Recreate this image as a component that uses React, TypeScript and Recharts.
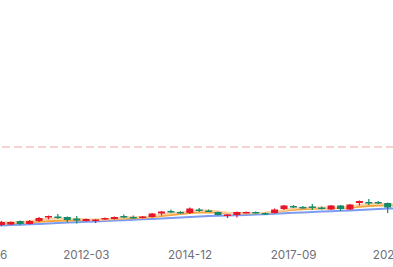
import { ComposedChart, Bar, Line, XAxis, YAxis, ReferenceLine } from 'recharts'

// quarterly candles, Chinese colouring: red = up, green = down
const quarters = [
  '2009-06', '2009-09', '2009-12', '2010-03', '2010-06', '2010-09', '2010-12', '2011-03', '2011-06',
  '2011-09', '2011-12', '2012-03', '2012-06', '2012-09', '2012-12', '2013-03', '2013-06', '2013-09',
  '2013-12', '2014-03', '2014-06', '2014-09', '2014-12', '2015-03', '2015-06', '2015-09', '2015-12',
  '2016-03', '2016-06', '2016-09', '2016-12', '2017-03', '2017-06', '2017-09', '2017-12', '2018-03',
  '2018-06', '2018-09', '2018-12', '2019-03', '2019-06', '2019-09', '2019-12', '2020-03', '2020-06',
]
const opens = [
  14, 17.5, 15, 15.5, 19, 16, 19, 22.5, 23.5, 23, 21.5, 19, 19, 20.5, 21, 24, 23, 22, 23, 26.5, 29, 28,
  27, 30.5, 29.5, 28, 24.5, 25, 27, 28, 27, 27, 31, 34, 33, 33.5, 32.5, 30.5, 34.5, 30.5, 37, 38, 38, 37, 35,
]
const closes = [
  16.5, 15.5, 18, 18, 16, 19, 22, 24, 22.5, 20, 19.5, 21, 20.5, 22, 23, 22.5, 22, 23.5, 26.5, 28.5, 28, 27,
  31.5, 29.5, 28.5, 25, 25.5, 28, 28, 27, 25.5, 30.5, 34.5, 33, 32, 32.5, 31.5, 34.5, 31, 35.5, 39, 37, 36.5, 32.5, 33,
]
const highs = [
  17.5, 18, 19, 18.5, 19.5, 20, 23, 24.5, 26, 23.5, 24, 21.5, 21, 22.5, 23.5, 25.5, 24.5, 24, 27, 29, 30.5, 29,
  32.5, 32, 30.5, 28.5, 26, 28.5, 28.5, 28.5, 27.5, 31.5, 35, 35, 34, 36, 33.5, 35, 35, 36, 39.5, 41, 39, 37.5, 37,
]
const lows = [
  13, 14.5, 14, 15, 15, 15.5, 18, 20.5, 21, 17.5, 16.5, 18.5, 17, 20, 20.5, 22, 21.5, 21.5, 22.5, 24.5, 27, 26.5,
  26, 28, 28, 24.5, 22, 22.5, 26.5, 26.5, 25, 26.5, 30, 32, 31.5, 30, 30.5, 30, 29, 30, 34.5, 35, 36, 27, 31,
]
const maShort = [
  16.5, 17.0, 17.4, 17.7, 18.0, 19.0, 20.2, 21.2, 21.8, 21.6, 21.0, 20.4, 20.2, 20.6, 21.4, 22.4, 22.9, 22.8, 23.7,
  25.4, 26.8, 27.6, 28.7, 29.4, 29.4, 28.5, 27.2, 26.7, 26.8, 27.1, 27.2, 28.2, 30.1, 31.5, 32.3, 32.6, 32.4, 32.5,
  32.7, 33.4, 35.0, 36.2, 36.6, 36.0, 35.4,
]
const maMid = [
  15.8, 16.1, 16.5, 16.9, 17.3, 17.7, 18.2, 18.8, 19.3, 19.6, 19.8, 20.0, 20.2, 20.5, 20.9, 21.4, 21.8, 22.3, 23.0,
  24.0, 25.0, 26.0, 27.0, 27.6, 27.8, 27.6, 27.1, 26.9, 26.8, 26.9, 27.2, 28.0, 29.2, 30.2, 30.8, 31.2, 31.5, 31.8,
  32.1, 32.6, 33.3, 34.0, 34.5, 34.7, 34.8,
]
const maLong = [
  13.7, 14.1, 14.5, 14.9, 15.3, 15.7, 16.1, 16.6, 17.0, 17.4, 17.8, 18.2, 18.6, 19.0, 19.4, 19.8, 20.2, 20.7, 21.1,
  21.6, 22.1, 22.6, 23.1, 23.5, 23.9, 24.2, 24.5, 24.8, 25.1, 25.4, 25.8, 26.2, 26.7, 27.2, 27.6, 28.0, 28.4, 28.8,
  29.2, 29.6, 30.0, 30.5, 31.0, 31.4, 31.8,
]
const markValue = 93

const RED = '#e5162c'
const GREEN = '#148a6c'

const data = quarters.map((q, i) => ({
  date: q,
  open: opens[i],
  close: closes[i],
  high: highs[i],
  low: lows[i],
  maShort: maShort[i],
  maMid: maMid[i],
  maLong: maLong[i],
}))

function Candle(props: any) {
  const { x, y, width, height, payload } = props
  if (payload == null || height == null) return null
  const { open, close, high, low } = payload
  const color = close >= open ? RED : GREEN
  const ratio = height / (high - low)
  const top = y + (high - Math.max(open, close)) * ratio
  const h = Math.max(Math.abs(open - close) * ratio, 1.5)
  const cx = x + width / 2
  return (
    <g>
      <line x1={cx} x2={cx} y1={y} y2={y + height} stroke={color} strokeWidth={1.2} />
      <rect x={x} y={top} width={width} height={h} fill={color} />
    </g>
  )
}

export default function App() {
  return (
    <div style={{ position: 'fixed', left: 0, top: 0, width: 393, height: 267, overflow: 'hidden', background: '#fff' }}>
      <div style={{ position: 'absolute', left: -22, top: 0 }}>
        <ComposedChart width={424} height={267} data={data} margin={{ top: 10, right: 0, bottom: 0, left: 0 }}>
          <XAxis
            dataKey="date"
            interval={10}
            axisLine={false}
            tickLine={false}
            height={27}
            tickMargin={5}
            tick={{ fontFamily: 'Inter', fontSize: 11.7, fill: '#6e7079' }}
          />
          <YAxis hide type="number" domain={[0, 230]} allowDataOverflow />
          <ReferenceLine y={markValue} stroke="#f2a3a3" strokeDasharray="8 4" />
          <Line dataKey="maLong" stroke="#7c9cf2" strokeWidth={2} dot={false} isAnimationActive={false} zIndex={250} />
          <Line dataKey="maMid" stroke="#f7a53c" strokeWidth={2} dot={false} isAnimationActive={false} zIndex={260} />
          <Line dataKey="maShort" stroke="#fcd0a0" strokeWidth={2} dot={false} isAnimationActive={false} zIndex={270} />
          <Bar dataKey={(d: any) => [d.low, d.high]} barSize={7} shape={<Candle />} isAnimationActive={false} zIndex={500} />
        </ComposedChart>
      </div>
    </div>
  )
}
